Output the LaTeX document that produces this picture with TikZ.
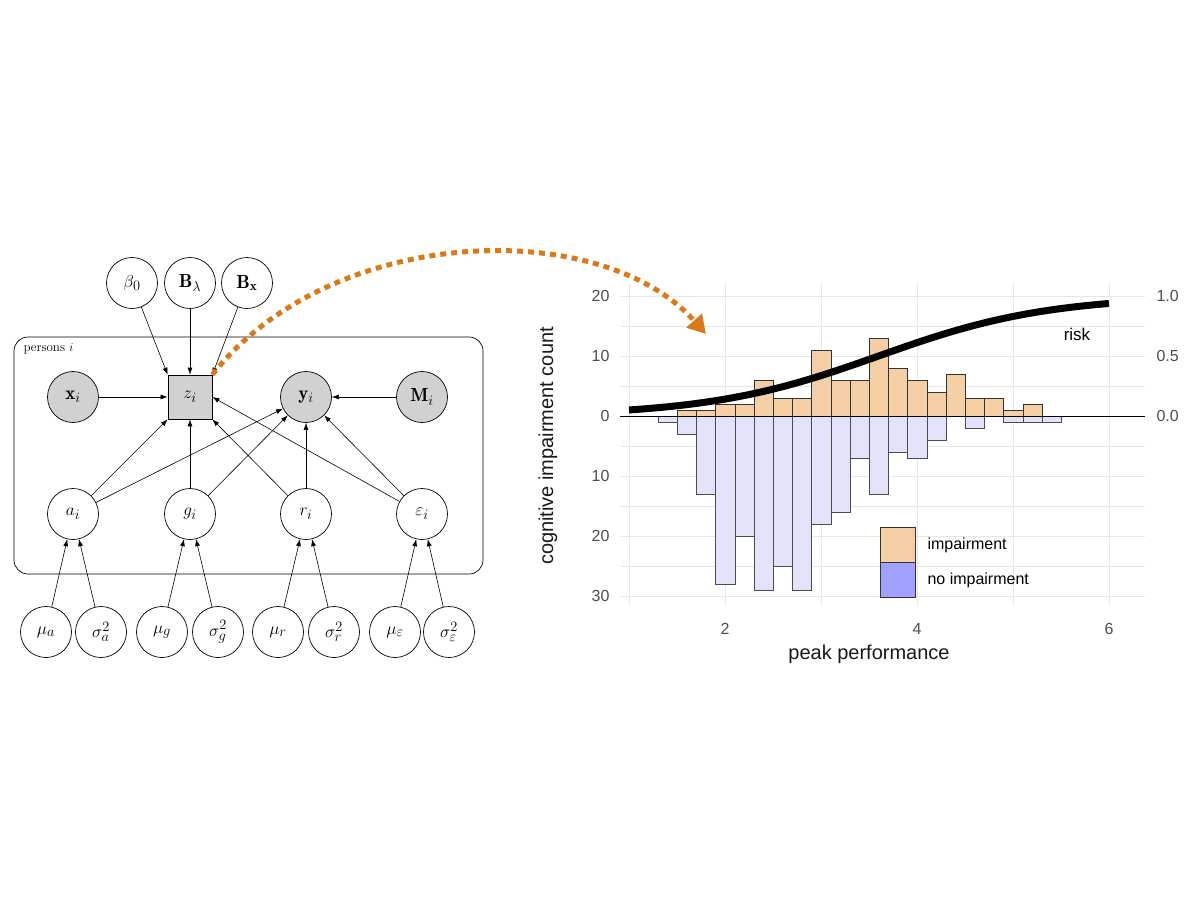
\documentclass[tikz,border=0pt]{standalone}
\usepackage{fontspec}
\newfontfamily\plotfont{Liberation Sans}
\usetikzlibrary{arrows.meta,shapes.geometric}
\definecolor{orng}{HTML}{D97A1A}
\definecolor{obar}{HTML}{F4CFA6}
\definecolor{bbar}{HTML}{E2E2FA}
\definecolor{bleg}{HTML}{A0A0FF}
\definecolor{grid}{HTML}{E6E6E6}
\definecolor{tick}{HTML}{4D4D4D}
\begin{document}
\begin{tikzpicture}[x=1pt,y=-1pt,
  var/.style={circle,draw,line width=0.7pt,minimum size=51pt,inner sep=0pt,font=\fontsize{19}{21}\selectfont},
  obs/.style={var,fill=black!18},
  det/.style={rectangle,draw,line width=0.7pt,fill=black!18,minimum size=44pt,inner sep=0pt,font=\fontsize{19}{21}\selectfont},
  edge/.style={line width=0.6pt,-{Latex[length=7pt,width=5pt]}},
  lab/.style={font=\plotfont\fontsize{16}{18}\selectfont,text=tick},
  ttl/.style={font=\plotfont\fontsize{20}{22}\selectfont,text=black!90}]
\useasboundingbox (0,0) rectangle (1200,900);
% plate
\draw[line width=0.7pt,rounded corners=14pt] (14,337) rectangle (483,574);
\node[anchor=west,font=\fontsize{13}{15}\selectfont] (plate) at (20,349) {persons $i$};
% top
\node[var] (b0) at (132,283) {$\beta_0$};
\node[var] (bl) at (190,283) {$\mathbf{B}_\lambda$};
\node[var] (bx) at (247,283) {$\mathbf{B}_\mathbf{x}$};
\node[obs] (x) at (73,397) {$\mathbf{x}_i$};
\node[det] (z) at (190,397) {$z_i$};
\node[obs] (y) at (306,397) {$\mathbf{y}_i$};
\node[obs] (M) at (422,397) {$\mathbf{M}_i$};
\node[var] (a) at (73,514) {$a_i$};
\node[var] (g) at (190,514) {$g_i$};
\node[var] (r) at (306,514) {$r_i$};
\node[var] (e) at (422,514) {$\varepsilon_i$};
\node[var] (ma) at (46,632) {$\mu_a$};
\node[var] (sa) at (101,632) {$\sigma^2_a$};
\node[var] (mg) at (162,632) {$\mu_g$};
\node[var] (sg) at (218,632) {$\sigma^2_g$};
\node[var] (mr) at (278,632) {$\mu_r$};
\node[var] (sr) at (334,632) {$\sigma^2_r$};
\node[var] (me) at (395,632) {$\mu_\varepsilon$};
\node[var] (se) at (449,632) {$\sigma^2_\varepsilon$};
\draw[edge] (b0) -- (z.north west);
\draw[edge] (bl) -- (z);
\draw[edge] (bx) -- (z.north east);
\draw[edge] (x) -- (z);
\draw[edge] (M) -- (y);
\draw[edge] (a) -- (z.south west);
\draw[edge] (g) -- (z);
\draw[edge] (r) -- (z.south east);
\draw[edge] (e) -- (z.east);
\draw[edge] (a) -- (y);
\draw[edge] (g) -- (y);
\draw[edge] (r) -- (y);
\draw[edge] (e) -- (y);
\foreach \p/\c in {ma/a,sa/a,mg/g,sg/g,mr/r,sr/r,me/e,se/e} \draw[edge] (\p) -- (\c);
% grid
\foreach \v in {296,326,...,597} \draw[grid,line width=0.9pt] (620,\v) -- (1145,\v);
\foreach \v in {629,725,821,917,1013,1109} \draw[grid,line width=0.9pt] (\v,283) -- (\v,605);
% bars
\foreach \o/\b [count=\i from 0] in {0/1,1/3,1/13,2/28,2/20,6/29,3/25,3/29,11/18,6/16,6/7,13/13,8/6,6/7,4/4,7/0,3/2,3/0,1/1,2/1,0/1} {
  \pgfmathsetmacro\xl{658+19.2*\i}
  \ifnum\b>0 \draw[fill=bbar,draw=black!70,line width=0.5pt] (\xl,416) rectangle (\xl+19.2,416+6*\b); \fi
  \ifnum\o>0 \draw[fill=obar,draw=black!80,line width=0.5pt] (\xl,416) rectangle (\xl+19.2,416-6*\o); \fi
}
\draw[line width=0.7pt] (620,416) -- (1145,416);
\draw[line width=7pt] plot[domain=1:6,samples=80,smooth] ({629+96*(\x-1)},{416-120/(1+exp(-1.13*(\x-3.6)))});
\node[lab,text=black,font=\plotfont\fontsize{17}{19}\selectfont] (risk) at (1077,334) {risk};
% axes labels
\foreach \t/\v in {20/296,10/356,0/416,10/476,20/536,30/596} \node[lab,anchor=east] at (613,\v) {\t};
\foreach \t/\v in {1.0/296,0.5/356,0.0/416} \node[lab,anchor=west] at (1153,\v) {\t};
\foreach \t/\v in {2/725,4/917,6/1109} \node[lab] at (\v,629) {\t};
\node[ttl] (xt) at (869,654) {peak performance};
\node[ttl,rotate=90] (yt) at (548,446) {cognitive impairment count};
% legend
\node[draw=black!80,fill=obar,minimum width=35pt,minimum height=35pt,inner sep=0pt,line width=0.6pt] (l1) at (898,545) {};
\node[draw=black!80,fill=bleg,minimum width=35pt,minimum height=35pt,inner sep=0pt,line width=0.6pt] (l2) at (898,580) {};
\node[lab,text=black,anchor=west] (t1) at (924,545) {impairment};
\node[lab,text=black,anchor=west] (t2) at (924,580) {no impairment};
% dotted arrow
\coordinate (tgt) at (706,334);
\draw[orng,line width=5pt,dash pattern=on 6pt off 5pt,-{Triangle[length=18pt,width=20pt]}] (z.north east) .. controls (330,225) and (600,215) .. (tgt);
\end{tikzpicture}
\end{document}
